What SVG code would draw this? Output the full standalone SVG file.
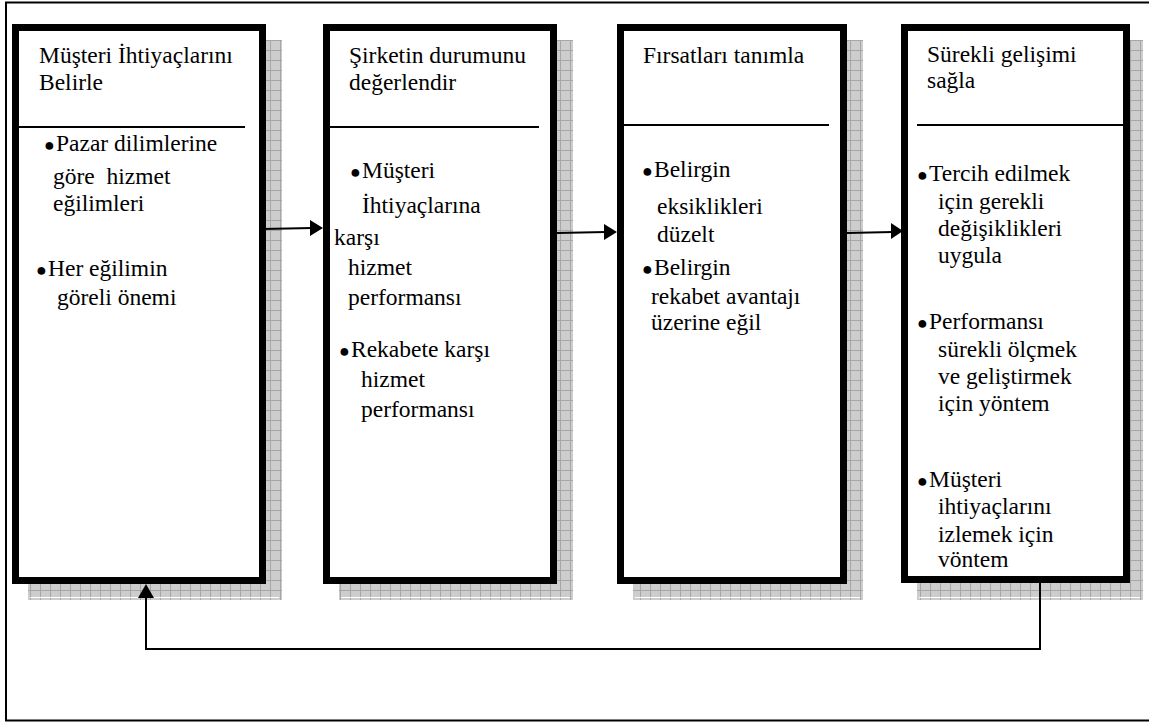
<svg xmlns="http://www.w3.org/2000/svg" width="1149" height="722" viewBox="0 0 1149 722">
  <style>
    .frame { fill: none; stroke: #000; stroke-width: 2; }
    .shadow { fill: url(#grid); }
    .shine { stroke: #fff; stroke-width: 1; }
    .box { fill: #fff; stroke: #000; stroke-width: 7; }
    .rule { stroke: #000; stroke-width: 2; }
    text { font-family: 'Liberation Serif', 'Times New Roman', Times, serif; font-size: 23.5px; fill: #000; }
    .dot { font-size: 18px; }
    .link { fill: none; stroke: #000; stroke-width: 2; }
    .head { fill: #000; }
  </style>
  <defs>
    <pattern id="grid" width="10" height="10" patternUnits="userSpaceOnUse">
      <rect width="10" height="10" fill="#cdcdcd"/>
      <path d="M0 0.5H10M0.5 0V10" stroke="#a6a6a6" stroke-width="1"/>
    </pattern>
  </defs>

  <!-- page frame -->
  <path class="frame" d="M1149 2.5H6V720.5H1149"/>

  <!-- step 1 -->
  <g id="step1">
    <rect class="shadow" x="28" y="40" width="254" height="560"/>
    <line class="shine" x1="30" y1="597.5" x2="279" y2="597.5"/>
    <rect class="box" x="15.5" y="27.5" width="247" height="553"/>
    <line class="rule" x1="19" y1="127" x2="245" y2="127"/>
    <text x="39" y="63">Müşteri İhtiyaçlarını</text>
    <text x="39" y="90">Belirle</text>
    <text y="151"><tspan class="dot" x="44">●</tspan><tspan x="56">Pazar dilimlerine</tspan></text>
    <text x="53" y="184" xml:space="preserve">göre  hizmet</text>
    <text x="53" y="211">eğilimleri</text>
    <text y="276"><tspan class="dot" x="36">●</tspan><tspan x="48">Her eğilimin</tspan></text>
    <text x="57" y="305">göreli önemi</text>
  </g>

  <!-- step 2 -->
  <g id="step2">
    <rect class="shadow" x="339" y="40" width="234" height="560"/>
    <line class="shine" x1="341" y1="597.5" x2="570" y2="597.5"/>
    <rect class="box" x="326.5" y="27.5" width="227" height="553"/>
    <line class="rule" x1="330" y1="127" x2="539" y2="127"/>
    <text x="349" y="63">Şirketin durumunu</text>
    <text x="349" y="90">değerlendir</text>
    <text y="178"><tspan class="dot" x="350">●</tspan><tspan x="362">Müşteri</tspan></text>
    <text x="362" y="213">İhtiyaçlarına</text>
    <text x="334" y="245">karşı</text>
    <text x="348" y="275">hizmet</text>
    <text x="348" y="305">performansı</text>
    <text y="357"><tspan class="dot" x="339">●</tspan><tspan x="351">Rekabete karşı</tspan></text>
    <text x="361" y="387">hizmet</text>
    <text x="361" y="417">performansı</text>
  </g>

  <!-- step 3 -->
  <g id="step3">
    <rect class="shadow" x="633" y="40" width="230" height="560"/>
    <line class="shine" x1="635" y1="597.5" x2="860" y2="597.5"/>
    <rect class="box" x="620.5" y="27.5" width="223" height="553"/>
    <line class="rule" x1="623" y1="125" x2="829" y2="125"/>
    <text x="643" y="63">Fırsatları tanımla</text>
    <text y="177"><tspan class="dot" x="642">●</tspan><tspan x="654">Belirgin</tspan></text>
    <text x="657" y="214">eksiklikleri</text>
    <text x="657" y="242">düzelt</text>
    <text y="275"><tspan class="dot" x="642">●</tspan><tspan x="654">Belirgin</tspan></text>
    <text x="651" y="304">rekabet avantajı</text>
    <text x="651" y="330">üzerine eğil</text>
  </g>

  <!-- step 4 -->
  <g id="step4">
    <rect class="shadow" x="917" y="40" width="226" height="560"/>
    <line class="shine" x1="919" y1="597.5" x2="1140" y2="597.5"/>
    <rect class="box" x="904.5" y="27.5" width="222" height="552"/>
    <line class="rule" x1="917" y1="125" x2="1123" y2="125"/>
    <text x="927" y="62">Sürekli gelişimi</text>
    <text x="927" y="88">sağla</text>
    <text y="181"><tspan class="dot" x="917">●</tspan><tspan x="929">Tercih edilmek</tspan></text>
    <text x="938" y="209">için gerekli</text>
    <text x="938" y="236">değişiklikleri</text>
    <text x="938" y="263">uygula</text>
    <text y="329"><tspan class="dot" x="917">●</tspan><tspan x="929">Performansı</tspan></text>
    <text x="938" y="357">sürekli ölçmek</text>
    <text x="938" y="384">ve geliştirmek</text>
    <text x="938" y="411">için yöntem</text>
    <text y="487"><tspan class="dot" x="917">●</tspan><tspan x="929">Müşteri</tspan></text>
    <text x="938" y="514">ihtiyaçlarını</text>
    <text x="938" y="542">izlemek için</text>
    <text x="938" y="567">vöntem</text>
  </g>

  <!-- connectors -->
  <g id="connectors">
    <line class="link" x1="263" y1="229" x2="312" y2="228"/>
    <polygon class="head" points="323,228 310,220 310,236"/>
    <line class="link" x1="557" y1="233" x2="606" y2="232"/>
    <polygon class="head" points="617,232 604,224 604,240"/>
    <line class="link" x1="847" y1="233" x2="893" y2="232"/>
    <polygon class="head" points="903,231 891,223 891,239"/>
    <path class="link" d="M1040 583V649H146V597"/>
    <polygon class="head" points="146,584 138,598 154,598"/>
  </g>
</svg>
